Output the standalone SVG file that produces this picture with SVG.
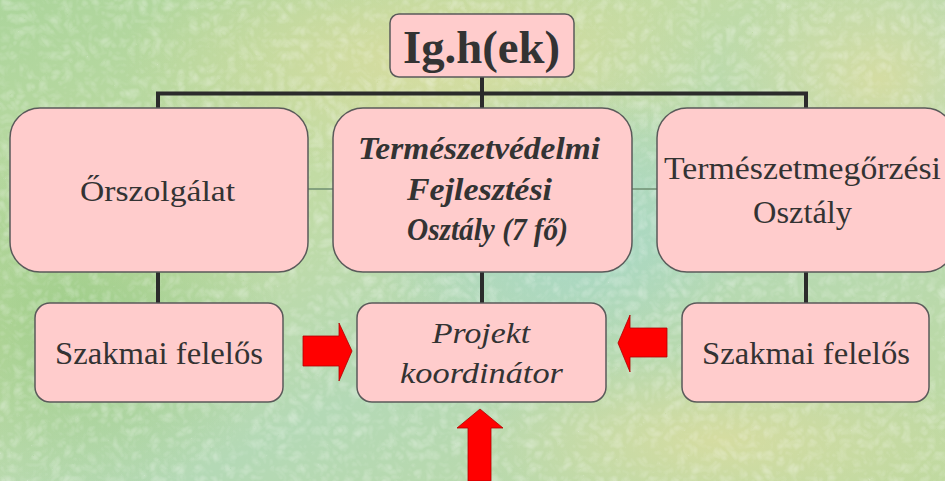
<svg xmlns="http://www.w3.org/2000/svg" width="945" height="481" viewBox="0 0 945 481">
  <defs>
    <linearGradient id="bg" x1="0" y1="0" x2="1" y2="1">
      <stop offset="0" stop-color="#acd59c"/>
      <stop offset="0.35" stop-color="#c2dba4"/>
      <stop offset="0.6" stop-color="#b4d9b6"/>
      <stop offset="1" stop-color="#bfd9a0"/>
    </linearGradient>
    <radialGradient id="blobY" cx="0.5" cy="0.5" r="0.5">
      <stop offset="0" stop-color="#dcdd9f" stop-opacity="0.8"/>
      <stop offset="1" stop-color="#dcdd9f" stop-opacity="0"/>
    </radialGradient>
    <radialGradient id="blobT" cx="0.5" cy="0.5" r="0.5">
      <stop offset="0" stop-color="#a2d7cd" stop-opacity="0.8"/>
      <stop offset="1" stop-color="#a2d7cd" stop-opacity="0"/>
    </radialGradient>
    <radialGradient id="blobG" cx="0.5" cy="0.5" r="0.5">
      <stop offset="0" stop-color="#90c880" stop-opacity="0.7"/>
      <stop offset="1" stop-color="#90c880" stop-opacity="0"/>
    </radialGradient>
    <filter id="tex" x="0" y="0" width="100%" height="100%">
      <feTurbulence type="turbulence" baseFrequency="0.08" numOctaves="2" seed="5" result="n"/>
      <feColorMatrix type="matrix" values="0 0 0 0 1  0 0 0 0 1  0 0 0 0 1  1.6 0 0 0 -0.25" in="n"/>
    </filter>
    <style>
      .box { fill: #ffcccc; stroke: #5a5a5a; stroke-width: 1.5; }
      .conn { stroke: #2b2b2b; stroke-width: 4; fill: none; }
      .thin { stroke: #6f8f72; stroke-width: 1.5; fill: none; }
      .arrow { fill: #ff0000; stroke: #b00000; stroke-width: 0.8; }
      text { font-family: "Liberation Serif", serif; fill: #333333; }
      .b { font-weight: bold; }
      .i { font-style: italic; }
    </style>
  </defs>

  <g id="background">
    <rect x="0" y="0" width="945" height="481" fill="url(#bg)"/>
    <ellipse cx="420" cy="60" rx="300" ry="120" fill="url(#blobY)"/>
    <ellipse cx="560" cy="220" rx="200" ry="140" fill="url(#blobT)"/>
    <ellipse cx="80" cy="320" rx="200" ry="180" fill="url(#blobG)"/>
    <ellipse cx="880" cy="80" rx="160" ry="120" fill="url(#blobY)"/>
    <ellipse cx="720" cy="440" rx="260" ry="90" fill="url(#blobY)"/>
    <rect x="0" y="0" width="945" height="481" filter="url(#tex)" opacity="0.3"/>
  </g>

  <g id="connectors">
    <line class="conn" x1="482" y1="77" x2="482" y2="108"/>
    <line class="conn" x1="156" y1="93.5" x2="808" y2="93.5"/>
    <line class="conn" x1="158" y1="93.5" x2="158" y2="108"/>
    <line class="conn" x1="806" y1="93.5" x2="806" y2="108"/>
    <line class="conn" x1="158" y1="272" x2="158" y2="303"/>
    <line class="conn" x1="482" y1="272" x2="482" y2="303"/>
    <line class="conn" x1="806" y1="272" x2="806" y2="303"/>
    <line class="thin" x1="308" y1="189" x2="333" y2="189"/>
    <line class="thin" x1="632" y1="189" x2="657" y2="189"/>
  </g>

  <g id="arrows">
    <polygon class="arrow" points="303,336 339,336 339,323 352,351 339,381 339,366 303,366"/>
    <polygon class="arrow" points="667,328 630,328 630,315 618,343 630,372 630,357 667,357"/>
    <polygon class="arrow" points="468,481 468,428 457,428 480,409 503,428 491,428 491,481"/>
  </g>

  <g id="node-top">
    <rect class="box" x="390" y="14" width="184" height="63" rx="9"/>
    <text class="b" x="403" y="63" font-size="46" textLength="157" lengthAdjust="spacingAndGlyphs">Ig.h(ek)</text>
  </g>

  <g id="node-orszolgalat">
    <rect class="box" x="10" y="108" width="298" height="164" rx="30"/>
    <text x="80" y="201" font-size="29" textLength="155" lengthAdjust="spacingAndGlyphs">Őrszolgálat</text>
  </g>

  <g id="node-fejlesztesi">
    <rect class="box" x="333" y="108" width="299" height="164" rx="30"/>
    <text class="b i" x="358" y="159" font-size="31" textLength="242" lengthAdjust="spacingAndGlyphs">Természetvédelmi</text>
    <text class="b i" x="407" y="200" font-size="31" textLength="145" lengthAdjust="spacingAndGlyphs">Fejlesztési</text>
    <text class="b i" x="407" y="240" font-size="31" textLength="161" lengthAdjust="spacingAndGlyphs">Osztály (7 fő)</text>
  </g>

  <g id="node-megorzesi">
    <rect class="box" x="657" y="108" width="298" height="164" rx="30"/>
    <text x="664" y="179" font-size="31" textLength="277" lengthAdjust="spacingAndGlyphs">Természetmegőrzési</text>
    <text x="753" y="223" font-size="31" textLength="99" lengthAdjust="spacingAndGlyphs">Osztály</text>
  </g>

  <g id="node-szakmai-left">
    <rect class="box" x="35" y="303" width="248" height="99" rx="15"/>
    <text x="55" y="364" font-size="31" textLength="208" lengthAdjust="spacingAndGlyphs">Szakmai felelős</text>
  </g>

  <g id="node-projekt">
    <rect class="box" x="357" y="303" width="249" height="99" rx="15"/>
    <text class="i" x="432" y="343" font-size="30" textLength="98" lengthAdjust="spacingAndGlyphs">Projekt</text>
    <text class="i" x="400" y="383" font-size="30" textLength="163" lengthAdjust="spacingAndGlyphs">koordinátor</text>
  </g>

  <g id="node-szakmai-right">
    <rect class="box" x="682" y="303" width="247" height="99" rx="15"/>
    <text x="702" y="364" font-size="31" textLength="208" lengthAdjust="spacingAndGlyphs">Szakmai felelős</text>
  </g>
</svg>
